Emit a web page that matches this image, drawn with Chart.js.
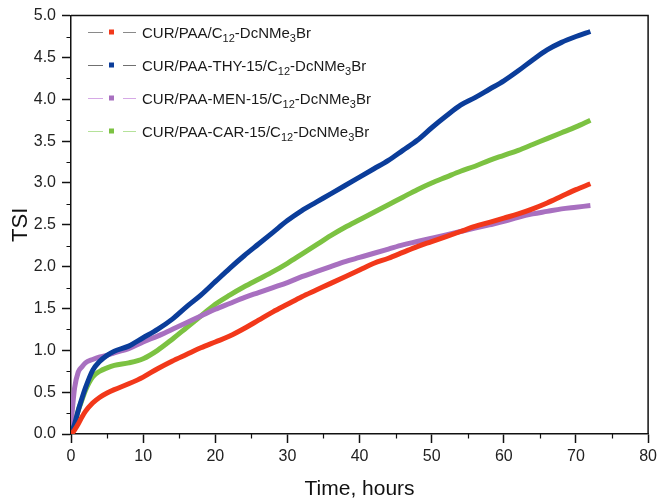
<!DOCTYPE html>
<html>
<head>
<meta charset="utf-8">
<script src="https://cdn.jsdelivr.net/npm/chart.js@4"></script>
<style>
html,body{margin:0;padding:0;background:#fff;}
#wrap{width:661px;height:502px;position:relative;}
</style>
</head>
<body>
<div id="wrap"><canvas id="c" width="661" height="502"></canvas></div>
<script>
const hours = [0,0.25,0.5,1,1.5,2,3,4,5,6,8,10,12,14,16,18,20,22,24,26,28,30,32,34,36,38,40,42,44,46,48,50,52,54,56,58,60,62,64,66,68,70,72];
const curPaa = [0,0.02,0.05,0.12,0.2,0.27,0.37,0.44,0.49,0.53,0.6,0.68,0.78,0.87,0.95,1.03,1.1,1.17,1.26,1.36,1.46,1.55,1.64,1.72,1.8,1.88,1.96,2.04,2.1,2.17,2.24,2.3,2.36,2.42,2.48,2.53,2.58,2.63,2.69,2.76,2.84,2.92,2.99];
const thy = [0,0.06,0.12,0.28,0.42,0.55,0.76,0.87,0.94,0.99,1.05,1.15,1.25,1.37,1.52,1.66,1.82,1.98,2.13,2.27,2.41,2.55,2.67,2.77,2.87,2.97,3.07,3.17,3.27,3.39,3.51,3.66,3.8,3.93,4.02,4.12,4.22,4.34,4.47,4.59,4.68,4.75,4.81];
const men = [0.1,0.35,0.55,0.74,0.8,0.85,0.89,0.92,0.94,0.97,1.02,1.1,1.17,1.25,1.33,1.41,1.49,1.56,1.63,1.69,1.75,1.81,1.88,1.94,2.0,2.06,2.11,2.16,2.21,2.26,2.3,2.34,2.38,2.42,2.46,2.5,2.54,2.59,2.63,2.66,2.69,2.71,2.73];
const car = [0,0.06,0.12,0.28,0.4,0.52,0.68,0.75,0.79,0.82,0.85,0.9,1.0,1.13,1.27,1.41,1.55,1.66,1.76,1.85,1.94,2.04,2.15,2.26,2.37,2.47,2.56,2.65,2.74,2.83,2.92,3.0,3.07,3.14,3.2,3.27,3.33,3.39,3.46,3.53,3.6,3.67,3.75];
const seriesNames = [
  ["CUR/PAA/C","12","-DcNMe","3","Br"],
  ["CUR/PAA-THY-15/C","12","-DcNMe","3","Br"],
  ["CUR/PAA-MEN-15/C","12","-DcNMe","3","Br"],
  ["CUR/PAA-CAR-15/C","12","-DcNMe","3","Br"]
];
const xTicks = [0,10,20,30,40,50,60,70,80];
const yTicks = [0,0.5,1,1.5,2,2.5,3,3.5,4,4.5,5];

const colors = ['#F2381A','#0B3D9A','#A870C0','#7CC242'];
const legendLineColors = ['#8a8a8a','#707070','#d6a9e6','#b5e29a'];
const FONT = '"Liberation Sans", Arial, sans-serif';

function mk(data, i){
  return {
    label: seriesNames[i].join(''),
    data: hours.map((h,k)=>({x:h,y:data[k]})),
    borderColor: colors[i],
    backgroundColor: colors[i],
    borderWidth: 5,
    pointRadius: 0,
    cubicInterpolationMode: 'monotone',
    fill: false
  };
}

const framePlugin = {
  id: 'frame',
  afterDraw(chart){
    const ctx = chart.ctx, a = chart.chartArea;
    const xs = chart.scales.x, ys = chart.scales.y;
    ctx.save();
    ctx.strokeStyle = '#111';
    ctx.lineWidth = 1.5;
    ctx.beginPath();
    ctx.moveTo(a.left, a.top); ctx.lineTo(a.right, a.top); ctx.lineTo(a.right, a.bottom);
    ctx.stroke();
    // minor ticks
    ctx.lineWidth = 1.2;
    ctx.beginPath();
    for (let v = 5; v < 80; v += 10){
      const px = Math.round(xs.getPixelForValue(v))+0.5;
      ctx.moveTo(px, a.bottom); ctx.lineTo(px, a.bottom+4.5);
    }
    for (let v = 0.25; v < 5; v += 0.5){
      const py = Math.round(ys.getPixelForValue(v))+0.5;
      ctx.moveTo(a.left, py); ctx.lineTo(a.left-4.5, py);
    }
    ctx.stroke();
    // legend
    const x0 = 88, y0 = 32, dy = 33;
    chart.data.datasets.forEach((ds,i)=>{
      const y = y0 + i*dy;
      ctx.strokeStyle = legendLineColors[i];
      ctx.lineWidth = 1;
      ctx.beginPath();
      ctx.moveTo(x0, y+0.5); ctx.lineTo(x0+15, y+0.5);
      ctx.moveTo(x0+35, y+0.5); ctx.lineTo(x0+48, y+0.5);
      ctx.stroke();
      ctx.fillStyle = colors[i];
      ctx.fillRect(x0+21, y-2.5, 5, 5);
      let tx = x0 + 54;
      ctx.fillStyle = '#1a1a1a';
      ctx.textBaseline = 'alphabetic';
      ctx.textAlign = 'left';
      seriesNames[i].forEach((part, k)=>{
        const sub = (k % 2 === 1);
        ctx.font = (sub ? '11px ' : '15px ') + FONT;
        ctx.fillText(part, tx, sub ? y+10 : y+5.5);
        tx += ctx.measureText(part).width;
      });
    });
    ctx.restore();
  }
};

new Chart(document.getElementById('c'), {
  type: 'line',
  data: { datasets: [mk(curPaa,0), mk(thy,1), mk(men,2), mk(car,3)] },
  options: {
    responsive: false,
    animation: false,
    layout: { padding: { top: 9, right: 11, left: 0, bottom: 0 } },
    plugins: { legend: { display: false }, tooltip: { enabled: false } },
    scales: {
      x: {
        type: 'linear', min: 0, max: 80,
        afterBuildTicks(s){ s.ticks = xTicks.map(v=>({value:v})); },
        afterFit(s){ s.height = 68; },
        grid: { drawOnChartArea: false, tickLength: 9, tickWidth: 1.5, color: '#111' },
        border: { display: true, color: '#111', width: 1.5 },
        ticks: { color: '#222', font: { family: FONT, size: 16 }, padding: 4, maxRotation: 0, callback: v => String(v) },
        title: { display: true, text: 'Time, hours', color: '#111', font: { family: FONT, size: 21 }, padding: { top: 4, bottom: 0 } }
      },
      y: {
        type: 'linear', min: 0, max: 5,
        afterBuildTicks(s){ s.ticks = yTicks.map(v=>({value:v})); },
        afterFit(s){ s.width = 71; },
        grid: { drawOnChartArea: false, tickLength: 9, tickWidth: 1.5, color: '#111' },
        border: { display: true, color: '#111', width: 1.5 },
        ticks: { color: '#222', font: { family: FONT, size: 16 }, padding: 6, callback: v => Number(v).toFixed(1) },
        title: { display: true, text: 'TSI', color: '#111', font: { family: FONT, size: 22 }, padding: { top: 8, bottom: 4 } }
      }
    }
  },
  plugins: [framePlugin]
});
</script>
</body>
</html>
